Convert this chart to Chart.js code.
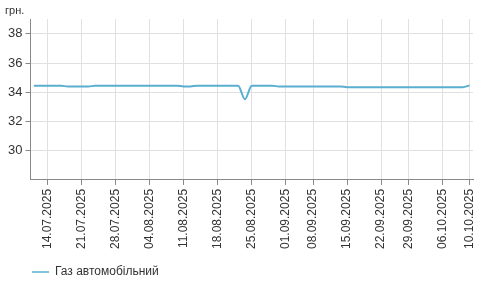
<!DOCTYPE html>
<html>
<head>
<meta charset="utf-8">
<script src="https://cdn.jsdelivr.net/npm/chart.js@4"></script>
<style>
html,body{margin:0;padding:0;background:#fff;}
#wrap{width:490px;height:287px;}
</style>
</head>
<body>
<div id="wrap"><canvas id="c" width="490" height="287"></canvas></div>
<script>
const dates = [
  "10.07.2025","11.07.2025",
  "14.07.2025","15.07.2025","16.07.2025","17.07.2025","18.07.2025",
  "21.07.2025","22.07.2025","23.07.2025","24.07.2025","25.07.2025",
  "28.07.2025","29.07.2025","30.07.2025","31.07.2025","01.08.2025",
  "04.08.2025","05.08.2025","06.08.2025","07.08.2025","08.08.2025",
  "11.08.2025","12.08.2025","13.08.2025","14.08.2025","15.08.2025",
  "18.08.2025","19.08.2025","20.08.2025","21.08.2025","22.08.2025",
  "25.08.2025","26.08.2025","27.08.2025","28.08.2025","29.08.2025",
  "01.09.2025","02.09.2025","03.09.2025","04.09.2025",
  "08.09.2025","09.09.2025","10.09.2025","11.09.2025","12.09.2025",
  "15.09.2025","16.09.2025","17.09.2025","18.09.2025","19.09.2025",
  "22.09.2025","23.09.2025","24.09.2025","25.09.2025",
  "29.09.2025","30.09.2025","01.10.2025","02.10.2025","03.10.2025",
  "06.10.2025","07.10.2025","08.10.2025","09.10.2025","10.10.2025"
];
const gasPrices = [
  34.45,34.45,
  34.45,34.45,34.45,34.39,34.39,
  34.39,34.39,34.45,34.45,34.45,
  34.45,34.45,34.45,34.45,34.45,
  34.45,34.45,34.45,34.45,34.45,
  34.40,34.40,34.45,34.45,34.45,
  34.45,34.45,34.45,34.45,33.52,
  34.45,34.45,34.45,34.45,34.39,
  34.39,34.39,34.39,34.39,
  34.39,34.39,34.39,34.39,34.39,
  34.35,34.35,34.35,34.35,34.35,
  34.35,34.35,34.35,34.35,
  34.35,34.35,34.35,34.35,34.35,
  34.35,34.35,34.35,34.35,34.47
];
const shownDates = ["14.07.2025","21.07.2025","28.07.2025","04.08.2025","11.08.2025","18.08.2025","25.08.2025","01.09.2025","08.09.2025","15.09.2025","22.09.2025","29.09.2025","06.10.2025","10.10.2025"];
const yTicks = [30,32,34,36,38];
const seriesName = "Газ автомобільний";
const unitLabel = "грн.";

Chart.defaults.font.family = "'Liberation Sans', Arial, sans-serif";
Chart.defaults.color = "#333";

const legendShift = {
  id: 'legendShift',
  afterLayout(chart) {
    const lg = chart.legend;
    if (lg) { lg.left += 17; lg.right += 17; lg.top += 3; lg.bottom += 3; }
  }
};

new Chart(document.getElementById('c'), {
  type: 'line',
  data: {
    labels: dates,
    datasets: [{
      label: seriesName,
      data: gasPrices,
      borderColor: '#5aaed0',
      backgroundColor: '#5aaed0',
      borderWidth: 2,
      pointRadius: 0,
      tension: 0.4,
      cubicInterpolationMode: 'monotone',
      fill: false
    }]
  },
  plugins: [legendShift],
  options: {
    responsive: false,
    animation: false,
    layout: { padding: { left: 5, right: 17, top: 0, bottom: 2 } },
    plugins: {
      title: {
        display: true, text: unitLabel, align: 'start',
        font: { size: 11, weight: 'normal' }, color: '#333',
        padding: { top: 4, bottom: 2 }
      },
      legend: {
        position: 'bottom', align: 'start',
        labels: {
          boxWidth: 17, boxHeight: 0, font: { size: 12 }, color: '#333',
          padding: 10,
          generateLabels: (chart) => [{
            text: seriesName, strokeStyle: '#5aaed0', fillStyle: '#5aaed0',
            lineWidth: 1.5, datasetIndex: 0, fontColor: '#333'
          }]
        }
      },
      tooltip: { enabled: false }
    },
    scales: {
      x: {
        offset: true,
        border: { color: '#888', width: 1 },
        grid: { offset: false, color: '#e0e0e0', tickColor: '#888', tickLength: 5, drawOnChartArea: true },
        ticks: {
          autoSkip: false, maxRotation: 90, minRotation: 90,
          font: { size: 12 }, color: '#333', padding: 4,
          callback: function(v) {
            const l = this.getLabelForValue(v);
            return shownDates.includes(l) ? l : null;
          }
        }
      },
      y: {
        min: 28, max: 39,
        border: { color: '#888', width: 1 },
        grid: { color: '#e0e0e0', tickColor: '#888', tickLength: 5 },
        ticks: {
          stepSize: 2, font: { size: 13 }, color: '#333', padding: 3,
          callback: (v) => yTicks.includes(v) ? String(v) : null
        }
      }
    }
  }
});
</script>
</body>
</html>
